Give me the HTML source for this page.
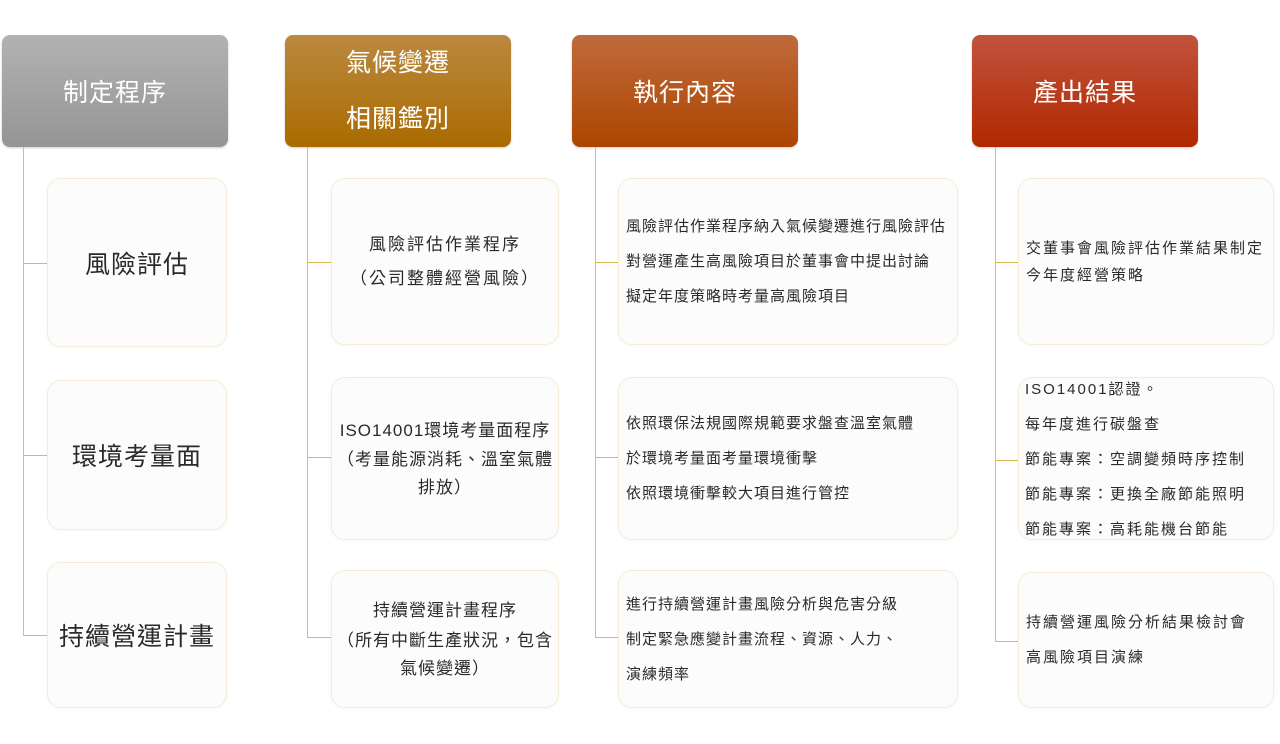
<!DOCTYPE html>
<html><head><meta charset="utf-8">
<style>
*{margin:0;padding:0;box-sizing:border-box}
body{width:1280px;height:744px;background:#fff;position:relative;overflow:hidden;font-family:"Liberation Sans","Noto Sans CJK TC",sans-serif}
.h{position:absolute;top:35px;height:112px;width:226px;border-radius:8px;color:#fff;font-size:25px;letter-spacing:1px;display:flex;flex-direction:column;align-items:center;justify-content:center;box-shadow:0 1px 2px rgba(0,0,0,.2)}
.b{position:absolute;background:#fcfcfc;border:1px solid #f6ecd6;border-radius:14px;box-shadow:0 1px 3px rgba(0,0,0,.04);color:#2a2a2a;display:flex;flex-direction:column;justify-content:center;white-space:nowrap}
.v{position:absolute;width:1px;background:#dcbc74}
.c{position:absolute;height:1px;width:24px;background:#e0b850}
.t1{font-size:25px;letter-spacing:1px;align-items:center}
.t2{font-size:17px;letter-spacing:2px;align-items:center;text-align:center;line-height:34px}
.t3{font-size:15px;letter-spacing:1px;padding-left:7px;line-height:35px}
.t4{letter-spacing:2px}
</style></head><body>
<div class="h" style="left:2px;background:linear-gradient(#b2b2b2,#959595)">制定程序</div>
<div class="h" style="left:285px;background:linear-gradient(#bb8940,#a96b00)"><div style="line-height:56px">氣候變遷<br>相關鑑別</div></div>
<div class="h" style="left:572px;background:linear-gradient(#bf6a3c,#ad4500)">執行內容</div>
<div class="h" style="left:972px;background:linear-gradient(#c2533d,#b02800)">產出結果</div>

<div class="v" style="left:23px;top:147px;height:488px"></div>
<div class="v" style="left:307px;top:147px;height:490px"></div>
<div class="v" style="left:595px;top:147px;height:490px"></div>
<div class="v" style="left:995px;top:147px;height:494px"></div>

<div class="c" style="left:23px;top:263px"></div>
<div class="c" style="left:23px;top:455px"></div>
<div class="c" style="left:23px;top:635px"></div>
<div class="c" style="left:307px;top:262px"></div>
<div class="c" style="left:307px;top:457px"></div>
<div class="c" style="left:307px;top:637px"></div>
<div class="c" style="left:595px;top:262px"></div>
<div class="c" style="left:595px;top:457px"></div>
<div class="c" style="left:595px;top:637px"></div>
<div class="c" style="left:995px;top:262px"></div>
<div class="c" style="left:995px;top:460px"></div>
<div class="c" style="left:995px;top:641px"></div>

<div class="b t1" style="left:47px;top:178px;width:180px;height:169px">風險評估</div>
<div class="b t1" style="left:47px;top:380px;width:180px;height:150px">環境考量面</div>
<div class="b t1" style="left:47px;top:562px;width:180px;height:146px">持續營運計畫</div>

<div class="b t2" style="left:331px;top:178px;width:228px;height:167px"><div>風險評估作業程序</div><div>（公司整體經營風險）</div></div>
<div class="b t2" style="left:331px;top:377px;width:228px;height:163px;line-height:30px;letter-spacing:1px"><div>ISO14001環境考量面程序</div><div style="line-height:28px">（考量能源消耗、溫室氣體<br>排放）</div></div>
<div class="b t2" style="left:331px;top:570px;width:228px;height:138px;line-height:32px;letter-spacing:1px"><div>持續營運計畫程序</div><div style="line-height:28px">（所有中斷生產狀況，包含<br>氣候變遷）</div></div>

<div class="b t3" style="left:618px;top:178px;width:340px;height:167px"><div>風險評估作業程序納入氣候變遷進行風險評估</div><div>對營運產生高風險項目於董事會中提出討論</div><div>擬定年度策略時考量高風險項目</div></div>
<div class="b t3" style="left:618px;top:377px;width:340px;height:163px"><div>依照環保法規國際規範要求盤查溫室氣體</div><div>於環境考量面考量環境衝擊</div><div>依照環境衝擊較大項目進行管控</div></div>
<div class="b t3" style="left:618px;top:570px;width:340px;height:138px"><div>進行持續營運計畫風險分析與危害分級</div><div>制定緊急應變計畫流程、資源、人力、</div><div>演練頻率</div></div>

<div class="b t3 t4" style="left:1018px;top:178px;width:256px;height:167px;line-height:27px"><div>交董事會風險評估作業結果制定</div><div>今年度經營策略</div></div>
<div class="b t3 t4" style="left:1018px;top:377px;width:256px;height:163px;padding-left:6px;justify-content:flex-start;line-height:35px"><div style="margin-top:-6px">ISO14001認證。</div><div>每年度進行碳盤查</div><div>節能專案：空調變頻時序控制</div><div>節能專案：更換全廠節能照明</div><div>節能專案：高耗能機台節能</div></div>
<div class="b t3 t4" style="left:1018px;top:572px;width:256px;height:136px"><div>持續營運風險分析結果檢討會</div><div>高風險項目演練</div></div>
</body></html>
